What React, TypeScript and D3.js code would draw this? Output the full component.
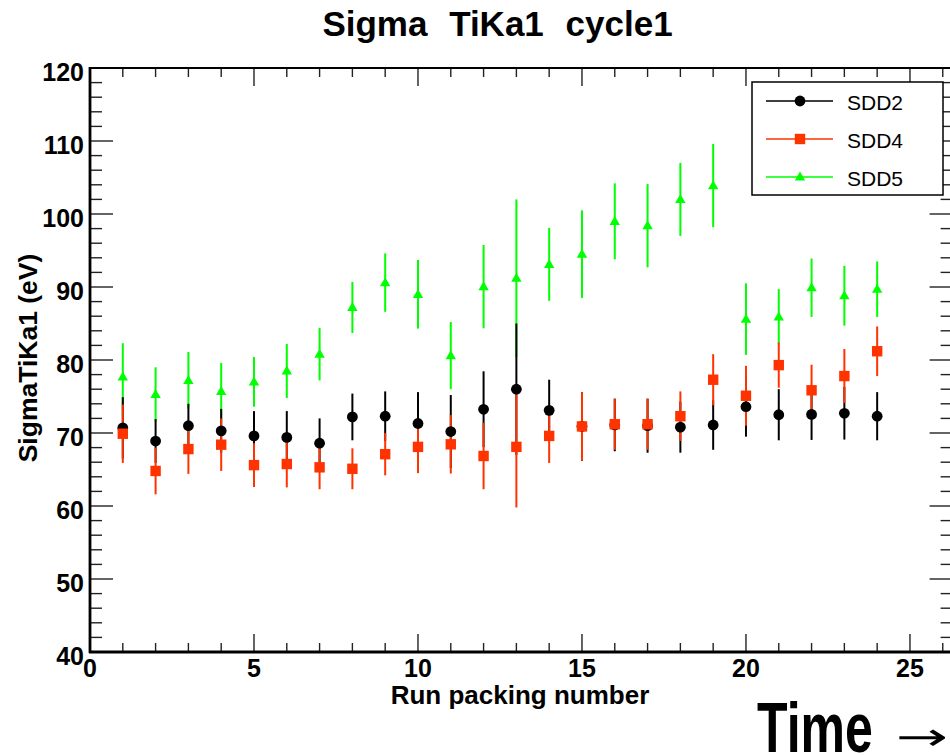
import React from "react";
import * as d3 from "d3";

const runs = [1, 2, 3, 4, 5, 6, 7, 8, 9, 10, 11, 12, 13, 14, 15, 16, 17, 18, 19, 20, 21, 22, 23, 24];
const sdd2 = [70.7, 68.9, 71.0, 70.3, 69.6, 69.4, 68.6, 72.2, 72.3, 71.3, 70.2, 73.25, 76.0, 73.1, 70.9, 71.1, 71.0, 70.8, 71.1, 73.6, 72.5, 72.55, 72.7, 72.3];
const sdd2Err = [4.2, 3.0, 3.0, 3.0, 3.4, 3.6, 3.4, 3.2, 3.4, 4.3, 5.0, 5.2, 9.0, 4.2, 4.7, 3.6, 3.7, 3.5, 3.4, 4.1, 3.5, 3.5, 3.6, 3.3];
const sdd4 = [69.9, 64.8, 67.8, 68.4, 65.6, 65.75, 65.3, 65.1, 67.1, 68.1, 68.45, 66.85, 68.1, 69.6, 70.9, 71.2, 71.2, 72.3, 77.3, 75.1, 79.3, 75.85, 77.8, 81.2];
const sdd4Err = [4.0, 3.2, 3.4, 3.6, 3.0, 3.2, 3.0, 2.8, 2.9, 3.6, 4.0, 4.55, 8.3, 3.7, 4.7, 3.5, 3.5, 3.4, 3.5, 4.1, 3.1, 3.5, 3.7, 3.4];
const sdd5 = [77.7, 75.3, 77.2, 75.7, 77.0, 78.5, 80.8, 87.2, 90.6, 89.0, 80.6, 90.05, 91.2, 93.1, 94.5, 99.0, 98.4, 102.0, 103.9, 85.6, 85.9, 89.9, 88.8, 89.7];
const sdd5Err = [4.6, 3.7, 3.9, 3.9, 3.4, 3.7, 3.6, 3.5, 4.0, 4.7, 4.6, 5.7, 10.8, 5.0, 6.0, 5.2, 5.7, 5.0, 5.7, 4.9, 3.8, 4.0, 4.1, 3.8];

const seriesNames = ["SDD2", "SDD4", "SDD5"];
const xTickLabels = ["0", "5", "10", "15", "20", "25"];
const yTickLabels = ["40", "50", "60", "70", "80", "90", "100", "110", "120"];

const title = "Sigma TiKa1 cycle1";
const xTitle = "Run packing number";
const yTitle = "SigmaTiKa1 (eV)";
const timeWord = "Time";
const timeArrow = "\u2192";

const FONT = "'Liberation Sans', Arial, Helvetica, sans-serif";
const colors = ["#000000", "#ff3300", "#00ff00"];

export default function App() {
  const left = 90, right = 952.6, top = 68, bottom = 652;
  const x = d3.scaleLinear().domain([0, 26.3]).range([left, right]);
  const y = d3.scaleLinear().domain([40, 120]).range([bottom, top]);

  const xMajor = xTickLabels.map(Number);
  const xMinor = d3.range(0, 27, 1).filter((v) => v % 5 !== 0 && v <= 26.3);
  const yMajor = yTickLabels.map(Number);
  const yMinor = d3.range(40, 121, 2).filter((v) => v % 10 !== 0);

  const series = [
    { name: seriesNames[0], vals: sdd2, errs: sdd2Err, color: colors[0], shape: "circle" },
    { name: seriesNames[1], vals: sdd4, errs: sdd4Err, color: colors[1], shape: "square" },
    { name: seriesNames[2], vals: sdd5, errs: sdd5Err, color: colors[2], shape: "triangle" },
  ];
  const drawOrder = [series[2], series[0], series[1]];

  const marker = (shape: string, cx: number, cy: number, color: string, key?: any) => {
    if (shape === "circle") return <circle key={key} cx={cx} cy={cy} r={5.4} fill={color} />;
    if (shape === "square") return <rect key={key} x={cx - 5.2} y={cy - 5.2} width={10.4} height={10.4} fill={color} />;
    const h = 9, w = 10.4;
    return (
      <path
        key={key}
        d={`M${cx},${cy - h * 0.6}L${cx + w / 2},${cy + h * 0.4}L${cx - w / 2},${cy + h * 0.4}Z`}
        fill={color}
      />
    );
  };

  return (
    <svg
      width={950}
      height={756}
      style={{ position: "absolute", left: 0, top: 0, background: "#fff", overflow: "hidden" }}
      fontFamily={FONT}
    >
      <rect x={0} y={0} width={950} height={756} fill="#fff" />
      {/* title */}
      <text x={497.5} y={36} textAnchor="middle" fontSize={35} fontWeight="bold" wordSpacing={12}>
        {title}
      </text>

      {/* ticks */}
      <g stroke="#222" strokeWidth={1.4}>
        {xMajor.map((v) => (
          <g key={"xM" + v}>
            <line x1={x(v)} x2={x(v)} y1={bottom} y2={bottom - 18} />
            <line x1={x(v)} x2={x(v)} y1={top} y2={top + 18} />
          </g>
        ))}
        {xMinor.map((v) => (
          <g key={"xm" + v}>
            <line x1={x(v)} x2={x(v)} y1={bottom} y2={bottom - 9} />
            <line x1={x(v)} x2={x(v)} y1={top} y2={top + 9} />
          </g>
        ))}
        {yMajor.map((v) => (
          <g key={"yM" + v}>
            <line x1={left} x2={left + 23} y1={y(v)} y2={y(v)} />
            <line x1={right} x2={right - 23} y1={y(v)} y2={y(v)} />
          </g>
        ))}
        {yMinor.map((v) => (
          <g key={"ym" + v}>
            <line x1={left} x2={left + 12} y1={y(v)} y2={y(v)} />
            <line x1={right} x2={right - 12} y1={y(v)} y2={y(v)} />
          </g>
        ))}
      </g>

      {/* frame */}
      <rect x={left} y={top} width={right - left} height={bottom - top} fill="none" stroke="#000" strokeWidth={2} />
      <line x1={left} x2={left} y1={top - 1} y2={bottom + 1} stroke="#000" strokeWidth={2.8} />
      <line x1={left - 1} x2={right} y1={bottom} y2={bottom} stroke="#000" strokeWidth={2.8} />

      {/* tick labels */}
      <g fontSize={25} fontWeight="bold" fill="#000">
        {yMajor.map((v, i) => (
          <text key={"yl" + v} x={84} y={y(v) + 13} textAnchor="end">
            {yTickLabels[i]}
          </text>
        ))}
        {xMajor.map((v, i) => (
          <text key={"xl" + v} x={x(v)} y={677} textAnchor="middle">
            {xTickLabels[i]}
          </text>
        ))}
      </g>

      {/* axis titles */}
      <text x={520} y={704} textAnchor="middle" fontSize={26} fontWeight="bold">
        {xTitle}
      </text>
      <text transform={`translate(37,358) rotate(-90)`} textAnchor="middle" fontSize={26.5} fontWeight="bold">
        {yTitle}
      </text>

      {/* data: error bars then markers */}
      {drawOrder.map((s) => (
        <g key={s.name}>
          {runs.map((r, i) => (
            <line
              key={"e" + i}
              x1={x(r)}
              x2={x(r)}
              y1={y(s.vals[i] + s.errs[i])}
              y2={y(s.vals[i] - s.errs[i])}
              stroke={s.color}
              strokeWidth={2}
            />
          ))}
        </g>
      ))}
      {drawOrder.map((s) => (
        <g key={s.name + "m"}>{runs.map((r, i) => marker(s.shape, x(r), y(s.vals[i]), s.color, i))}</g>
      ))}

      {/* legend */}
      <rect x={752} y={82} width={191} height={113} fill="#fff" stroke="#000" strokeWidth={1.5} />
      {series.map((s, i) => {
        const ly = 101 + i * 38;
        return (
          <g key={"lg" + s.name}>
            <line x1={766} x2={833} y1={ly} y2={ly} stroke={s.color} strokeWidth={1.5} />
            {marker(s.shape, 800, ly, s.color)}
            <text x={847} y={ly + 8.5} fontSize={21} fill="#000">
              {s.name}
            </text>
          </g>
        );
      })}

      {/* Time arrow annotation */}
      <text transform="translate(757,752) scale(1,1.39)" fontSize={50} fontWeight="bold" fill="#000">
        {timeWord}
      </text>
      <text
        transform="translate(896,750) scale(1.3,0.8)"
        fontSize={48}
        fontFamily="'DejaVu Sans', sans-serif"
        fill="#000"
      >
        {timeArrow}
      </text>
    </svg>
  );
}
